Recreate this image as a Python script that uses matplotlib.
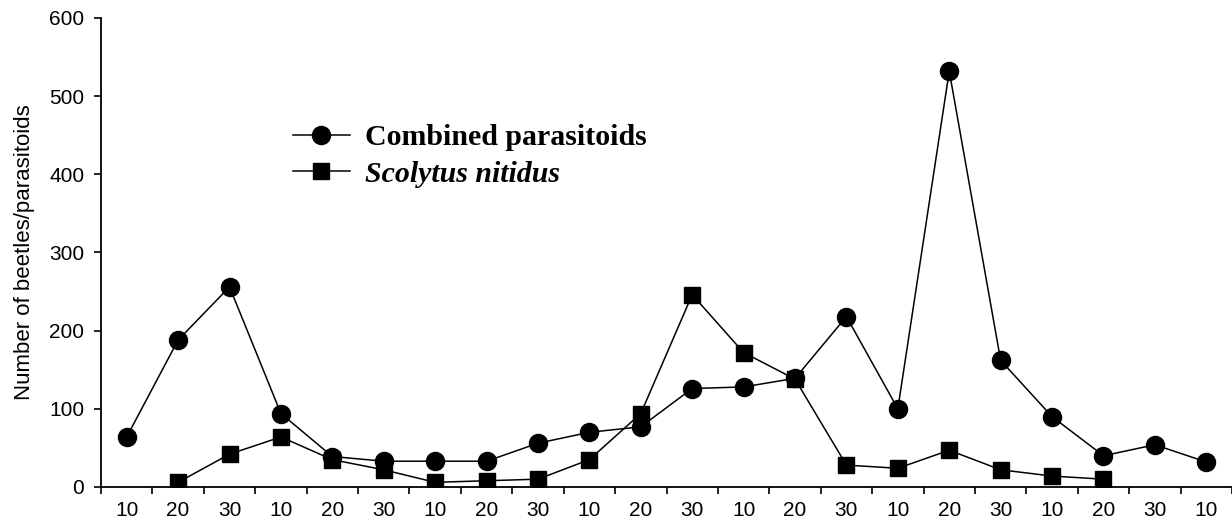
import numpy as np
import matplotlib
matplotlib.use("Agg")
import matplotlib.pyplot as plt

# Data
tick_labels = ["10", "20", "30"] * 7 + ["10"]
combined = [64, 188, 256, 94, 39, 33, 33, 33, 56, 70, 77, 126, 128, 139,
            218, 100, 532, 162, 90, 40, 54, 32]
scolytus = [np.nan, 6, 42, 64, 35, 22, 6, 8, 10, 35, 94, 246, 172, 138,
            28, 24, 47, 22, 14, 10, np.nan, np.nan]
series_names = ["Combined parasitoids", "Scolytus nitidus"]

W, H = 1232, 523
fig = plt.figure(figsize=(W / 100, H / 100), dpi=100)
ax = fig.add_axes([101 / W, 36 / H, (W - 101) / W, (487 - 18) / H])

x = np.arange(len(tick_labels))
l1, = ax.plot(x, combined, color="black", lw=1.1, marker="o", ms=13,
              mfc="black", mec="black")
l2, = ax.plot(x, scolytus, color="black", lw=1.1, marker="s", ms=12,
              mfc="black", mec="black")

ax.set_xlim(-0.5, -0.5 + (W - 101) / 51.7)
ax.set_ylim(0, 600)
ax.set_yticks(range(0, 601, 100))
ax.set_xticks(x)
ax.set_xticklabels(tick_labels)
ax.set_xticks(np.arange(-0.5, len(x) + 0.5, 1.0), minor=True)

for s in ["top", "right"]:
    ax.spines[s].set_visible(False)
for s in ["left", "bottom"]:
    ax.spines[s].set_linewidth(1.3)

ax.tick_params(axis="x", which="major", length=0, pad=10,
               labelsize=15, labelfontfamily="Liberation Sans")
ax.tick_params(axis="x", which="minor", length=5, width=1.2, direction="out")
ax.tick_params(axis="y", length=5, width=1.2, direction="out", pad=7,
               labelsize=15, labelfontfamily="Liberation Sans")

ax.set_ylabel("Number of beetles/parasitoids", fontsize=16,
              family="Liberation Sans", labelpad=10)

leg = fig.legend([l1, l2], series_names, loc="upper left",
                 bbox_to_anchor=(293 / W, 1 - 124 / H),
                 frameon=False, borderpad=0, borderaxespad=0,
                 handlelength=1.9, handletextpad=0.5, labelspacing=0.32,
                 prop={"family": "Liberation Serif", "weight": "bold",
                       "size": 21.5})
leg.get_texts()[1].set_style("italic")

fig.savefig("out.png", dpi=100)
